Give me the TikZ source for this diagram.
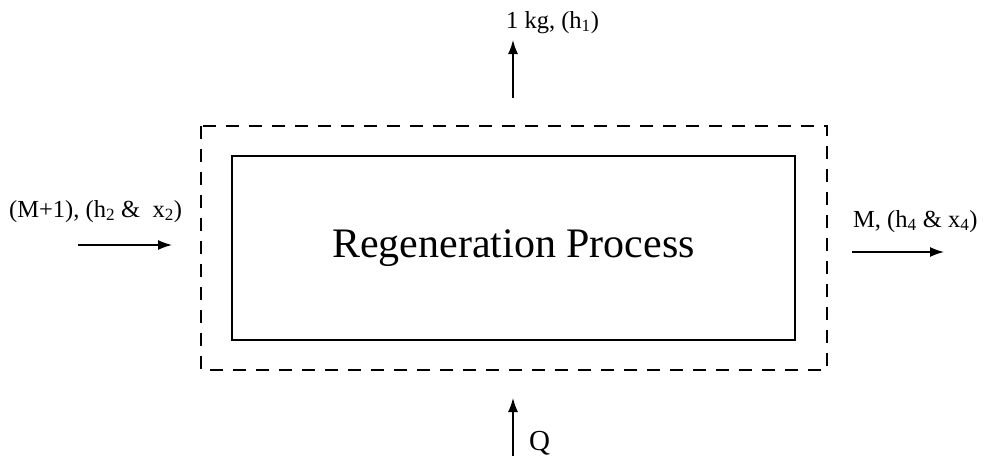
\documentclass[tikz,border=0pt]{standalone}
\usepackage{fontspec}
\setmainfont{Liberation Serif}
\usetikzlibrary{arrows.meta}
\tikzset{
  flow/.style={line width=1.4pt, -{Latex[length=14pt,width=10pt]}},
  lbl/.style={font=\fontsize{24.5}{28}\selectfont, inner sep=0pt, anchor=base west},
  ctrl/.style={dashed, dash pattern=on 13pt off 10pt, line width=2.4pt},
  proc/.style={draw, line width=1.6pt, minimum width=563pt, minimum height=184pt, inner sep=0pt}
}
\begin{document}
\begin{tikzpicture}[x=1pt,y=-1pt]
\useasboundingbox (0,0) rectangle (985,459);
\fill[white] (0,0) rectangle (985,459);
\node[proc, font=\fontsize{42}{48}\selectfont] (P) at (513.5,248) {Regeneration Process};
\coordinate (cvA) at (201,126);
\coordinate (cvB) at (827,370);
\draw[ctrl] (cvA) rectangle (cvB);
% top outlet
\coordinate (t0) at (513,98);
\coordinate (t1) at (513,40);
\draw[flow] (t0) -- (t1);
\node[lbl] (tl) at (506,28) {1 kg, (h\textsubscript{1})};
% bottom heat
\coordinate (b0) at (513,456);
\coordinate (b1) at (513,398);
\draw[flow] (b0) -- (b1);
\node[lbl, font=\fontsize{29}{32}\selectfont] (Q) at (529,450) {Q};
% left inlet
\coordinate (l0) at (78,245);
\coordinate (l1) at (172,245);
\draw[flow] (l0) -- (l1);
\node[lbl] (ll) at (9,217) {(M+1), (h\textsubscript{2} \&\ \ x\textsubscript{2})};
% right outlet
\coordinate (r0) at (852,252);
\coordinate (r1) at (944,252);
\draw[flow] (r0) -- (r1);
\node[lbl] (rl) at (853,227) {M, (h\textsubscript{4} \& x\textsubscript{4})};
\end{tikzpicture}
\end{document}
